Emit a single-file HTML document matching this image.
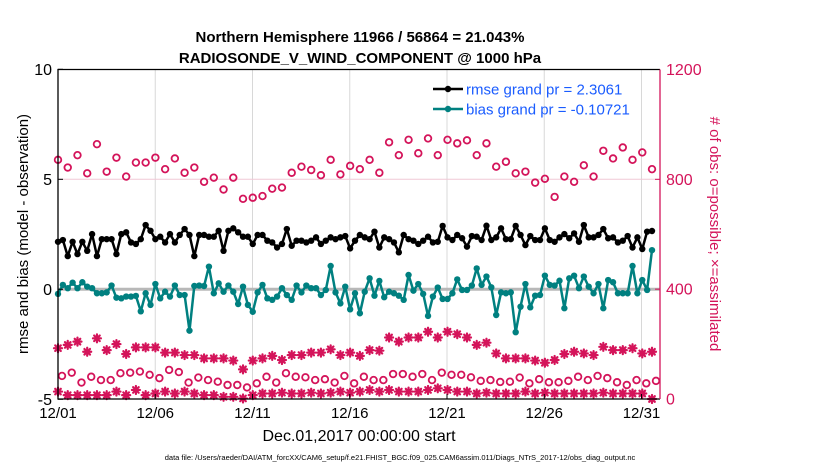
<!DOCTYPE html>
<html><head><meta charset="utf-8">
<style>
html,body{margin:0;padding:0;background:#fff;}
body{width:830px;height:470px;overflow:hidden;font-family:"Liberation Sans",sans-serif;}
svg text{font-family:"Liberation Sans",sans-serif;}
</style></head>
<body>
<svg id="chart" width="830" height="470" viewBox="0 0 830 470" xmlns="http://www.w3.org/2000/svg">
<g id="grid"></g>
<g id="series"></g>
<g id="axes"></g>
<text x="360" y="42" text-anchor="middle" font-size="15" font-weight="bold">Northern Hemisphere 11966 / 56864 = 21.043%</text>
<text x="360" y="63" text-anchor="middle" font-size="15" font-weight="bold">RADIOSONDE_V_WIND_COMPONENT @ 1000 hPa</text>
<text x="359" y="441" text-anchor="middle" font-size="16">Dec.01,2017 00:00:00 start</text>
<text x="400" y="460" text-anchor="middle" font-size="7.5">data file: /Users/raeder/DAI/ATM_forcXX/CAM6_setup/f.e21.FHIST_BGC.f09_025.CAM6assim.011/Diags_NTrS_2017-12/obs_diag_output.nc</text>
<text transform="translate(28,234) rotate(-90)" text-anchor="middle" font-size="15">rmse and bias (model - observation)</text>
<text transform="translate(710,234) rotate(90)" text-anchor="middle" font-size="15" fill="#d4145a">#  of obs: o=possible; ×=assimilated</text>
<g>
  <line x1="433" y1="89" x2="463" y2="89" stroke="#000" stroke-width="2.5"/>
  <circle cx="448" cy="89" r="3.2" fill="#000"/>
  <text x="466" y="94.5" font-size="15" fill="#1a5cff">rmse grand pr = 2.3061</text>
  <line x1="433" y1="109" x2="463" y2="109" stroke="#008080" stroke-width="2.5"/>
  <circle cx="448" cy="109" r="3.2" fill="#008080"/>
  <text x="466" y="114.5" font-size="15" fill="#1a5cff">bias grand pr = -0.10721</text>
</g>
</svg>
<script>
const dayLabels = ["12/01","12/06","12/11","12/16","12/21","12/26","12/31"];
const dayTicks = [1,6,11,16,21,26,31];
const leftTicks = [-5,0,5,10];
const rightTicks = [0,400,800,1200];
const rmse = [2.16,2.24,1.51,2.16,1.60,2.16,1.75,2.51,1.51,2.28,2.28,2.28,1.60,2.51,2.59,2.13,2.06,2.28,2.92,2.66,2.28,2.39,2.13,2.51,2.13,2.47,2.74,2.47,1.51,2.47,2.47,2.39,2.39,2.66,1.75,2.66,2.77,2.59,2.39,2.39,
2.06,2.47,2.47,2.21,2.13,1.9,2.06,2.74,1.98,2.21,2.21,2.13,2.21,2.36,2.06,2.21,2.36,2.28,2.36,2.42,1.86,2.21,2.47,2.36,2.28,2.62,1.9,2.36,2.28,2.13,1.68,2.47,2.28,2.21,2.06,2.21,2.39,2.13,2.16,2.88,2.36,
2.24,2.47,2.32,1.94,2.42,2.39,2.24,2.89,2.24,2.36,2.77,2.28,2.28,2.88,2.47,2.01,2.42,2.24,2.24,2.77,2.24,2.16,2.36,2.51,2.32,2.54,2.16,2.92,2.36,2.36,2.47,2.74,2.32,2.36,2.13,2.21,2.42,1.9,2.36,1.83,2.62,2.65];
const bias = [-0.21,0.2,0.05,0.3,0.05,0.32,0.12,0.05,-0.18,-0.18,-0.14,0.17,-0.38,-0.41,-0.33,-0.33,-0.3,-1.0,-0.18,-0.71,0.24,-0.41,-0.11,-0.33,0.17,-0.26,-0.26,-1.88,0.15,0.17,0.15,1.03,-0.18,0.27,-0.11,0.17,-0.11,-0.67,0.12,-0.71,
-1.02,-0.14,0.2,-0.41,-0.48,-0.33,0.05,-0.26,-0.48,0.17,-0.14,0.17,0.05,0.05,-0.26,-0.03,1.06,-0.14,-0.64,0.12,-0.91,-0.18,-1.09,-0.11,0.5,-0.29,0.38,-0.36,-0.11,-0.18,-0.29,-0.48,0.65,-0.06,0.24,-0.21,-1.21,-0.33,0.08,-0.44,-0.44,
-0.18,0.45,-0.03,-0.03,0.17,0.95,0.2,0.58,0.09,-1.17,-0.14,-0.18,-0.14,-1.95,-0.79,0.24,-0.82,-0.29,-0.26,0.62,0.2,0.17,0.39,-0.86,0.5,0.62,0.05,0.58,0.12,-0.18,0.24,-0.86,0.42,0.32,-0.18,-0.18,-0.18,1.06,-0.18,0.42,-0.03,1.78];
const possibleA = [871,843,888,822,928,828,879,810,861,861,879,837,876,824,843,791,806,763,806,729,733,
739,766,770,824,846,834,815,871,818,849,837,871,824,935,888,944,895,949,888,944,
931,942,888,931,846,864,822,828,788,802,736,810,791,851,810,904,876,916,871,898,837];
const assimA = [185,197,209,172,221,178,200,164,188,188,188,169,169,160,160,148,148,148,140,108,140,148,157,142,160,160,169,169,181,160,169,157,178,176,224,209,224,224,245,224,245,236,224,197,205,166,148,148,148,140,132,142,164,172,166,160,190,178,178,185,166,172];
const possibleB = [84,96,60,81,69,69,94,96,100,88,76,106,98,60,78,69,63,51,51,42,57,81,60,94,81,79,69,72,60,84,57,81,69,69,91,91,81,91,69,96,88,88,79,66,69,62,63,78,57,72,61,61,66,81,69,84,76,61,51,69,57,66];
const assimB = [27,14,14,14,14,14,27,14,33,14,20,27,20,27,20,14,14,8,8,2,14,20,20,23,20,20,23,20,23,27,23,27,33,27,33,27,27,27,33,39,33,27,27,20,23,20,20,20,27,20,23,20,20,20,20,20,23,20,20,20,20,0];

const X0=58, X1=652, TOP=69.5, BOT=399, LEFT=58, RIGHT=660;
const dayX = d => 58 + (d-1)*19.45;
const yL = v => 289.3 - v*22;
const yR = n => BOT - n*(BOT-TOP)/1200;
const xIdx = (i,n) => X0 + i*(X1-X0)/(n-1);
const NS="http://www.w3.org/2000/svg";
function mk(tag, parent, attrs){const e=document.createElementNS(NS,tag);for(const k in attrs)e.setAttribute(k,attrs[k]);parent.appendChild(e);return e;}
const grid=document.getElementById('grid'), ser=document.getElementById('series'), ax=document.getElementById('axes');

dayTicks.forEach((d,i)=>{
  const g=mk('line',grid,{x1:dayX(d),x2:dayX(d),y1:TOP,y2:BOT,stroke:'#d8d8d8','stroke-width':1});
  
  
  const t=mk('text',ax,{x:dayX(d),y:418,'text-anchor':'middle','font-size':15});
  t.textContent=dayLabels[i];
  
  
  mk('line',ax,{x1:dayX(d),x2:dayX(d),y1:BOT,y2:BOT-5,stroke:'#000','stroke-width':1});
});
const hg=mk('line',grid,{x1:LEFT,x2:RIGHT,y1:yL(5),y2:yL(5),stroke:'#f0c8d6','stroke-width':1});


const zl=mk('line',grid,{x1:LEFT,x2:RIGHT,y1:yL(0),y2:yL(0),stroke:'#b8b8b8','stroke-width':3});



leftTicks.forEach(v=>{
  const t=mk('text',ax,{x:52,y:yL(v)+5.5,'text-anchor':'end','font-size':16});
  t.textContent=v;
  
  
  mk('line',ax,{x1:LEFT,x2:LEFT+5,y1:yL(v),y2:yL(v),stroke:'#000'});
});
rightTicks.forEach(v=>{
  const t=mk('text',ax,{x:666,y:yR(v)+5.5,'font-size':16,fill:'#d4145a'});
  t.textContent=v;
  
  
  mk('line',ax,{x1:RIGHT-5,x2:RIGHT,y1:yR(v),y2:yR(v),stroke:'#d4145a'});
});
mk('path',ax,{d:`M${RIGHT},${TOP} H${LEFT} V${BOT} H${RIGHT}`,fill:'none',stroke:'#000','stroke-width':1.3});
mk('line',ax,{x1:RIGHT,x2:RIGHT,y1:TOP,y2:BOT,stroke:'#d4145a','stroke-width':1.3});

function star(parent,x,y){
  const g=mk('g',parent,{stroke:'#d4145a','stroke-width':2.2,'stroke-linecap':'round'});
  const r=4;
  mk('line',g,{x1:x-r,x2:x+r,y1:y,y2:y});
  mk('line',g,{x1:x,x2:x,y1:y-r,y2:y+r});
  mk('line',g,{x1:x-r*0.7,x2:x+r*0.7,y1:y-r*0.7,y2:y+r*0.7});
  mk('line',g,{x1:x-r*0.7,x2:x+r*0.7,y1:y+r*0.7,y2:y-r*0.7});
  return g;
}
function circ(parent,x,y){return mk('circle',parent,{cx:x,cy:y,r:3.3,fill:'none',stroke:'#d4145a','stroke-width':1.8});}

const gA=mk('g',ser,{});  
possibleA.forEach((v,i)=>circ(gA,xIdx(i,possibleA.length),yR(v)));
const gB=mk('g',ser,{});  
assimA.forEach((v,i)=>star(gB,xIdx(i,assimA.length),yR(v)));
const gC=mk('g',ser,{});  
possibleB.forEach((v,i)=>circ(gC,xIdx(i,possibleB.length)+4,yR(v)));
const gD=mk('g',ser,{});  
assimB.forEach((v,i)=>star(gD,xIdx(i,assimB.length),yR(v)));

function lineSeries(arr,color,name){
  const g=mk('g',ser,{});
  
  
  const pts=arr.map((v,i)=>xIdx(i,arr.length).toFixed(1)+','+yL(v).toFixed(1)).join(' ');
  mk('polyline',g,{points:pts,fill:'none',stroke:color,'stroke-width':2.5,'stroke-linejoin':'round'});
  arr.forEach((v,i)=>mk('circle',g,{cx:xIdx(i,arr.length),cy:yL(v),r:3.2,fill:color}));
}
lineSeries(bias,'#008080','bias-series');
lineSeries(rmse,'#000','rmse-series');
</script>
</body></html>
